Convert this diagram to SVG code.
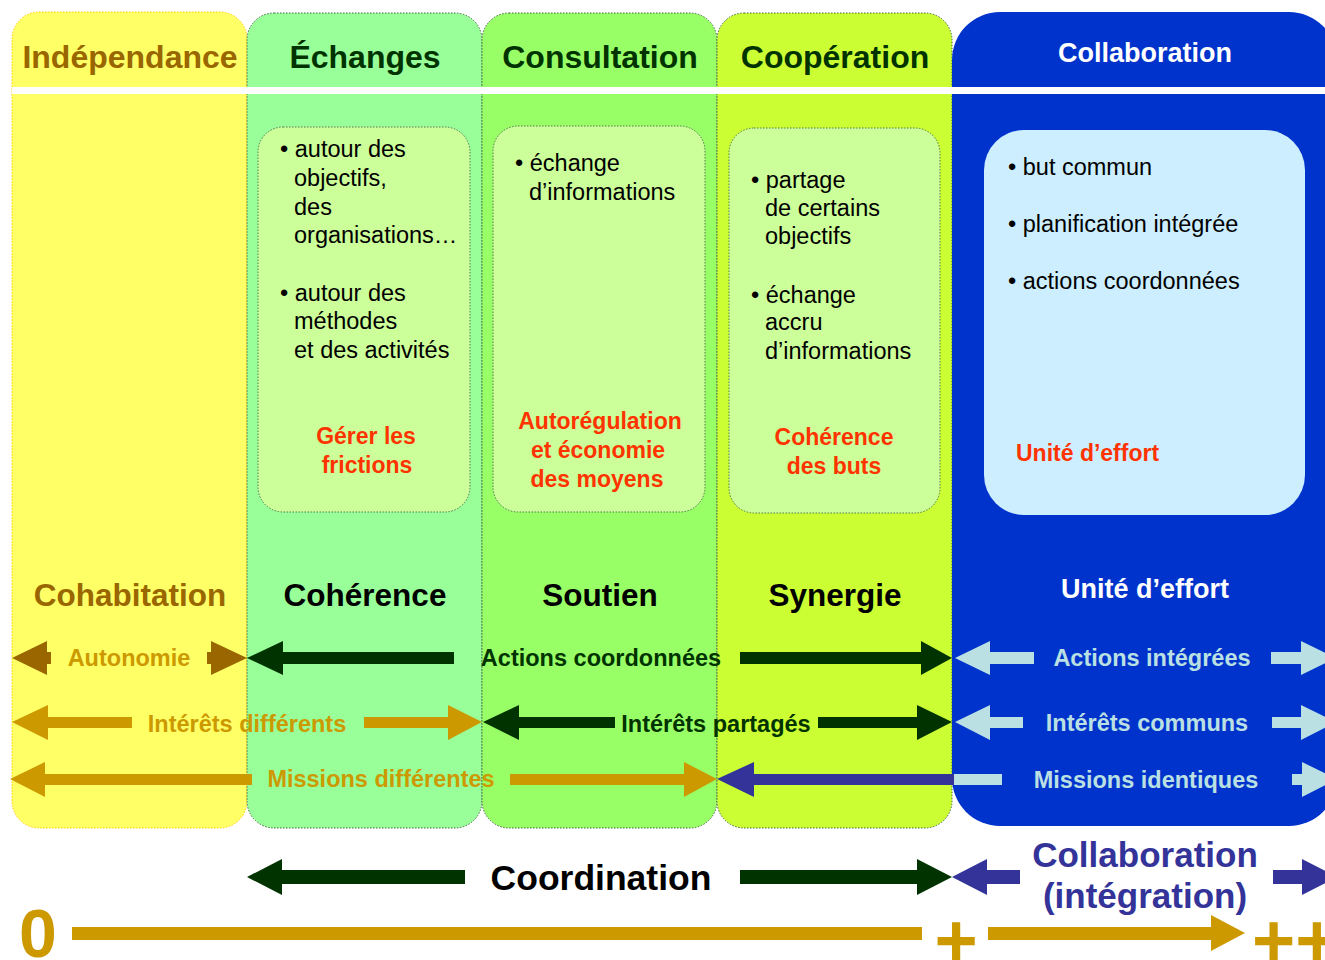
<svg xmlns="http://www.w3.org/2000/svg" width="1325" height="960" viewBox="0 0 1325 960">
<style>
text{font-family:"Liberation Sans",Arial,sans-serif}
.col{stroke-width:1;stroke-dasharray:1.5 1.5}
.inner{fill:#CCFF99;stroke:#557755;stroke-width:1;stroke-dasharray:1.5 1.5}
.hd{font-size:32px;font-weight:bold;text-anchor:middle}
.mid{font-size:31.5px;font-weight:bold;text-anchor:middle}
.bl{font-size:23.5px;fill:#000}
.red{font-size:23px;font-weight:bold;fill:#FF3300;text-anchor:middle}
.lab{font-size:23.5px;font-weight:bold;text-anchor:middle}
.brown{fill:#996600}
.gold{fill:#CC9900}
.dg{fill:#003300}
.lb{fill:#BBE0E3}
.pu{fill:#333399}
</style>
<rect width="1325" height="960" fill="#FFFFFF"/>
<g id="col-independance">
<rect class="col" x="12" y="12" width="235" height="816" rx="27" fill="#FFFF66" stroke="#FFCC00"/>
</g>
<g id="col-echanges">
<rect class="col" x="247" y="13" width="235" height="815" rx="27" fill="#99FF99" stroke="#446644"/>
</g>
<g id="col-consultation">
<rect class="col" x="482" y="13" width="235" height="815" rx="27" fill="#99FF66" stroke="#446644"/>
</g>
<g id="col-cooperation">
<rect class="col" x="717" y="13" width="235" height="815" rx="27" fill="#CCFF33" stroke="#446644"/>
</g>
<g id="col-collaboration">
<rect x="952" y="12" width="385" height="814" rx="48" fill="#0033CC"/>
</g>
<rect id="separator" x="12" y="87" width="1313" height="7" fill="#FFFFFF"/>

<g id="head-independance">
<text class="hd brown" x="130" y="68">Indépendance</text>
<text class="mid brown" x="130" y="606">Cohabitation</text>
</g>
<g id="head-echanges">
<text class="hd dg" x="365" y="68">Échanges</text>
<text class="mid" x="365" y="606" fill="#000">Cohérence</text>
</g>
<g id="head-consultation">
<text class="hd dg" x="600" y="68">Consultation</text>
<text class="mid" x="600" y="606" fill="#000">Soutien</text>
</g>
<g id="head-cooperation">
<text class="hd dg" x="835" y="68">Coopération</text>
<text class="mid" x="835" y="606" fill="#000">Synergie</text>
</g>
<g id="head-collaboration">
<text x="1145" y="62" font-size="27" font-weight="bold" text-anchor="middle" fill="#FFFFFF">Collaboration</text>
<text x="1145" y="598" font-size="27" font-weight="bold" text-anchor="middle" fill="#FFFFFF">Unité d’effort</text>
</g>

<g id="box-echanges">
<rect class="inner" x="258" y="127" width="212" height="385" rx="25"/>
<text class="bl" x="280" y="157">• autour des</text>
<text class="bl" x="294" y="186">objectifs,</text>
<text class="bl" x="294" y="215">des</text>
<text class="bl" x="294" y="243">organisations…</text>
<text class="bl" x="280" y="301">• autour des</text>
<text class="bl" x="294" y="329">méthodes</text>
<text class="bl" x="294" y="358">et des activités</text>
<text class="red" x="366" y="444">Gérer les</text>
<text class="red" x="367" y="473">frictions</text>
</g>
<g id="box-consultation">
<rect class="inner" x="493" y="126" width="212" height="386" rx="25"/>
<text class="bl" x="515" y="171">• échange</text>
<text class="bl" x="529" y="200">d’informations</text>
<text class="red" x="600" y="429">Autorégulation</text>
<text class="red" x="598" y="458">et économie</text>
<text class="red" x="597" y="487">des moyens</text>
</g>
<g id="box-cooperation">
<rect class="inner" x="729" y="128" width="211" height="385" rx="25"/>
<text class="bl" x="751" y="188">• partage</text>
<text class="bl" x="765" y="216">de certains</text>
<text class="bl" x="765" y="244">objectifs</text>
<text class="bl" x="751" y="303">• échange</text>
<text class="bl" x="765" y="330">accru</text>
<text class="bl" x="765" y="359">d’informations</text>
<text class="red" x="834" y="445">Cohérence</text>
<text class="red" x="834" y="474">des buts</text>
</g>
<g id="box-collaboration">
<rect x="984" y="130" width="321" height="385" rx="40" fill="#CCEEFF"/>
<text class="bl" x="1008" y="175">• but commun</text>
<text class="bl" x="1008" y="232">• planification intégrée</text>
<text class="bl" x="1008" y="289">• actions coordonnées</text>
<text x="1016" y="461" font-size="23" font-weight="bold" fill="#FF3300">Unité d’effort</text>
</g>

<g id="connectors">
<!-- row 1 -->
<polygon class="brown" points="12,658 47,641 47,652 51,652 51,664 47,664 47,675"/>
<polygon class="brown" points="247,658 211,641 211,652 207,652 207,664 211,664 211,675"/>
<polygon class="dg" points="247,658 283,641 283,652 454,652 454,664 283,664 283,675"/>
<polygon class="dg" points="952,658 921,641 921,652 740,652 740,664 921,664 921,675"/>
<polygon class="lb" points="955,658 990,641 990,652 1034,652 1034,664 990,664 990,675"/>
<polygon class="lb" points="1336,658 1301,641 1301,652 1271,652 1271,664 1301,664 1301,675"/>
<!-- row 2 -->
<polygon class="gold" points="12,722 48,705 48,717 132,717 132,728 48,728 48,740"/>
<polygon class="gold" points="482,722 448,705 448,717 364,717 364,728 448,728 448,740"/>
<polygon class="dg" points="483,722 519,705 519,717 615,717 615,728 519,728 519,740"/>
<polygon class="dg" points="952,722 917,705 917,717 818,717 818,728 917,728 917,740"/>
<polygon class="lb" points="955,722 990,705 990,717 1023,717 1023,728 990,728 990,740"/>
<polygon class="lb" points="1336,722 1301,705 1301,717 1272,717 1272,728 1301,728 1301,740"/>
<!-- row 3 -->
<polygon class="gold" points="10,779 45,762 45,774 252,774 252,785 45,785 45,797"/>
<polygon class="gold" points="717,779 684,762 684,774 510,774 510,785 684,785 684,797"/>
<polygon class="pu" points="717,779 754,762 754,774 954,774 954,785 754,785 754,797"/>
<rect class="lb" x="954" y="774" width="48" height="11"/>
<polygon class="lb" points="1337,779 1302,762 1302,774 1292,774 1292,785 1302,785 1302,797"/>
<!-- coordination / collaboration -->
<polygon class="dg" points="247,877 282,859 282,870 465,870 465,884 282,884 282,895"/>
<polygon class="dg" points="952,877 917,859 917,870 740,870 740,884 917,884 917,895"/>
<polygon class="pu" points="952,877 987,859 987,870 1020,870 1020,884 987,884 987,895"/>
<polygon class="pu" points="1337,877 1302,859 1302,870 1273,870 1273,884 1302,884 1302,895"/>
<!-- axis -->
<rect class="gold" x="72" y="927" width="850" height="13"/>
<polygon class="gold" points="1245,933 1211,915 1211,927 988,927 988,940 1211,940 1211,951"/>
</g>

<g id="labels">
<text class="lab gold" x="129" y="666">Autonomie</text>
<text class="lab dg" x="601" y="666">Actions coordonnées</text>
<text class="lab lb" x="1152" y="666">Actions intégrées</text>
<text class="lab gold" x="247" y="732">Intérêts différents</text>
<text class="lab dg" x="716" y="732">Intérêts partagés</text>
<text class="lab lb" x="1147" y="731">Intérêts communs</text>
<text class="lab gold" x="381" y="787">Missions différentes</text>
<text class="lab lb" x="1146" y="788">Missions identiques</text>
<text x="601" y="890" font-size="35.5" font-weight="bold" text-anchor="middle" fill="#000">Coordination</text>
<text x="1145" y="867" font-size="35" font-weight="bold" text-anchor="middle" fill="#333399">Collaboration</text>
<text x="1145" y="908" font-size="35" font-weight="bold" text-anchor="middle" fill="#333399">(intégration)</text>
<text x="19" y="957" font-size="68" font-weight="bold" fill="#CC9900">0</text>
<text x="956" y="966" font-size="74" font-weight="bold" text-anchor="middle" fill="#CC9900">+</text>
<text x="1252" y="966" font-size="74" font-weight="bold" fill="#CC9900">++</text>
</g>
</svg>
